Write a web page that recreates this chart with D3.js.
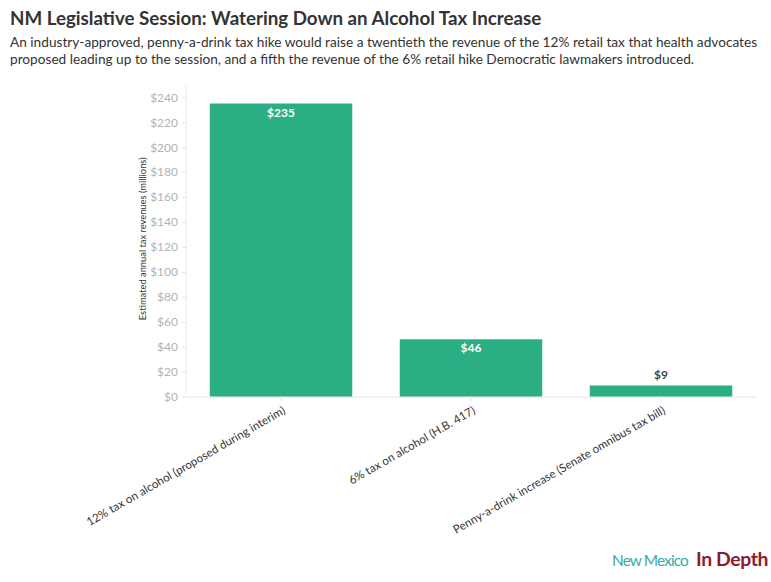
<!DOCTYPE html>
<html>
<head>
<meta charset="utf-8">
<script src="https://cdn.jsdelivr.net/npm/d3@7"></script>
<style>
  html, body { margin: 0; padding: 0; background: #ffffff; }
  svg { display: block; }
  text { font-family: "Source Sans Pro", Lato, "Open Sans", sans-serif; }
</style>
</head>
<body>
<svg id="chart" width="771" height="582"></svg>
<script>
// ---- data ----
const categories = [
  "12% tax on alcohol (proposed during interim)",
  "6% tax on alcohol (H.B. 417)",
  "Penny-a-drink increase (Senate omnibus tax bill)"
];
const revenues = [235, 46, 9];
const barLabels = ["$235", "$46", "$9"];
const yTicks = [0, 20, 40, 60, 80, 100, 120, 140, 160, 180, 200, 220, 240];
const titleText = "NM Legislative Session: Watering Down an Alcohol Tax Increase";
const subtitleLines = [
  "An industry-approved, penny-a-drink tax hike would raise a twentieth the revenue of the 12% retail tax that health advocates",
  "proposed leading up to the session, and a fifth the revenue of the 6% retail hike Democratic lawmakers introduced."
];
const yAxisTitle = "Estimated annual tax revenues (millions)";

// ---- layout ----
const plot = { left: 186, right: 756, top: 84.8, bottom: 396.7 };
const svg = d3.select("#chart");

function fitWidth(sel, target) {
  const node = sel.node();
  let fs = parseFloat(sel.attr("font-size"));
  for (let i = 0; i < 4; i++) {
    const w = node.getComputedTextLength();
    if (w > 0) fs = fs * target / w;
    sel.attr("font-size", fs.toFixed(2));
  }
  return fs;
}

// title
const t = svg.append("text").attr("x", 10).attr("y", 25)
  .attr("font-size", 19).attr("font-weight", 700).attr("fill", "#333333")
  .text(titleText);
fitWidth(t, 531);

const subTargets = [747, 684];
const subBase = [46.7, 64.2];
let subFs = 14;
subtitleLines.forEach((line, i) => {
  const s = svg.append("text").attr("x", 10).attr("y", subBase[i])
    .attr("font-size", 14).attr("fill", "#333333").text(line);
  if (i === 0) subFs = fitWidth(s, subTargets[0]);
  else s.attr("font-size", subFs.toFixed(2));
});

// scales
const x = d3.scaleBand().domain(categories).range([plot.left, plot.right])
  .paddingInner(0.25).paddingOuter(0.125);
const y = d3.scaleLinear().domain([0, 250]).range([plot.bottom, plot.top]);

// left axis line (light)
svg.append("line")
  .attr("x1", plot.left).attr("x2", plot.left)
  .attr("y1", y(250)).attr("y2", y(0))
  .attr("stroke", "#ececec").attr("stroke-width", 1);

// y axis
const yAxis = d3.axisLeft(y).tickValues(yTicks).tickSize(4).tickPadding(4)
  .tickFormat(d => "$" + d);
const gy = svg.append("g").attr("transform", `translate(${plot.left},0)`).call(yAxis);
gy.select(".domain").remove();
gy.selectAll(".tick line").attr("stroke", "#e3e3e3");
gy.selectAll(".tick text").attr("fill", "#b3b3b3").attr("font-size", 12)
  .attr("font-family", '"Source Sans Pro", Lato, sans-serif');

// y axis title
const yt = svg.append("text")
  .attr("transform", `translate(146,${(y(0) + y(250)) / 2 - 2}) rotate(-90)`)
  .attr("text-anchor", "middle").attr("font-size", 11).attr("fill", "#333333")
  .text(yAxisTitle);
fitWidth(yt, 163);

// bars
svg.append("g").selectAll("rect").data(revenues).join("rect")
  .attr("x", (d, i) => x(categories[i]))
  .attr("width", x.bandwidth())
  .attr("y", d => y(d))
  .attr("height", d => y(0) - y(d))
  .attr("fill", "#2bae84");

// x axis
const xAxis = d3.axisBottom(x).tickSize(5).tickSizeOuter(0).tickFormat("");
const gx = svg.append("g").attr("transform", `translate(0,${plot.bottom})`).call(xAxis);
gx.select(".domain").attr("stroke", "#e6e6e6");
gx.selectAll(".tick line").attr("stroke", "#e6e6e6");

// x category labels rotated
const xl = svg.append("g").selectAll("text").data(categories).join("text")
  .attr("transform", d => `translate(${x(d) + x.bandwidth() / 2 + 1},${plot.bottom + 9}) rotate(-30)`)
  .attr("text-anchor", "end").attr("dy", "0.71em")
  .attr("font-size", 12.5).attr("fill", "#333333")
  .text(d => d);
const xfs = fitWidth(d3.select(xl.nodes()[0]), 227);
xl.attr("font-size", xfs.toFixed(2));

// bar value labels
svg.append("g").selectAll("text").data(revenues).join("text")
  .attr("x", (d, i) => x(categories[i]) + x.bandwidth() / 2)
  .attr("y", d => (y(0) - y(d) > 25) ? y(d) + 13 : y(d) - 6)
  .attr("text-anchor", "middle").attr("font-size", 12).attr("font-weight", 700)
  .attr("fill", d => (y(0) - y(d) > 25) ? "#ffffff" : "#444444")
  .text((d, i) => barLabels[i]);

// logo
const logo1 = svg.append("text").attr("x", 612).attr("y", 566)
  .attr("font-size", 17).attr("fill", "#3aaaa8").attr("font-weight", 400)
  .attr("letter-spacing", "-0.9")
  .text("New Mexico");
fitWidth(logo1, 76);
const logo2 = svg.append("text").attr("x", 696).attr("y", 566)
  .attr("font-size", 17).attr("fill", "#8c1c2c").attr("font-weight", 700)
  .attr("letter-spacing", "-0.4")
  .text("In Depth");
fitWidth(logo2, 72);
</script>
</body>
</html>
